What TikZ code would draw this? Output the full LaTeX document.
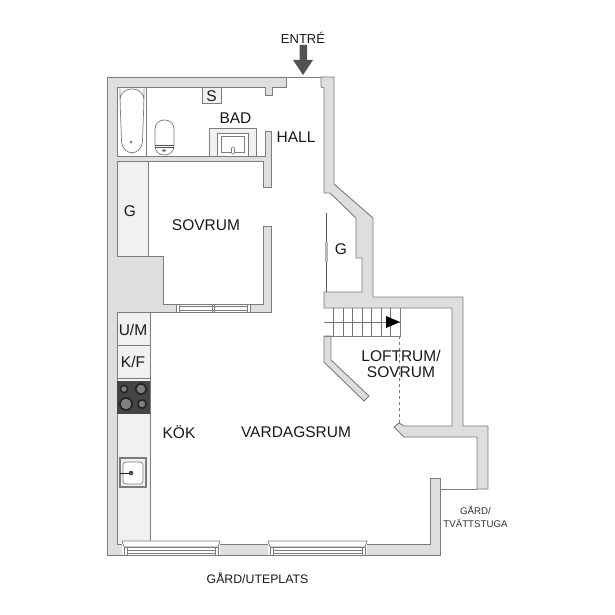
\documentclass[tikz,border=0pt]{standalone}
\usepackage{fontspec}
\setmainfont{Liberation Sans}
\definecolor{wallgray}{HTML}{DEDEDE}
\definecolor{edgegray}{HTML}{7C7C7C}
\definecolor{fixgray}{HTML}{F1F1F1}
\definecolor{hobgray}{HTML}{444444}
\tikzset{
    wall/.style={draw=edgegray,fill=wallgray,line width=0.9pt,line join=miter},
    fixture/.style={draw=edgegray,fill=fixgray,line width=0.8pt},
    thin line/.style={draw=edgegray,line width=0.7pt},
    room/.style={text=black!90,font=\fontsize{15.5}{18}\selectfont,align=center,inner sep=0pt},
    small room/.style={text=black!80,font=\fontsize{9.7}{13}\selectfont,align=center,inner sep=0pt},
}
\begin{document}
\begin{tikzpicture}[x=1pt,y=-1pt]
\useasboundingbox[fill=white] (0,0) rectangle (615,615);

\fill[fixgray] (117,161) rectangle (148,256);
\fill[fixgray] (117,312) rectangle (150,544);
\draw[thin line] (148,161) -- (148,256);
\draw[thin line] (150,312) -- (150,544);
\draw[thin line] (146,87) -- (146,156);
\draw[thin line] (286,77) -- (321,77);

\draw[wall] (107,77) -- (286,77) -- (286,87) -- (272,87) -- (272,95) -- (265,95) -- (265,87)
    -- (117,87) -- (117,156) -- (265,156) -- (265,131) -- (271,131) -- (271,187) -- (263,187)
    -- (263,161) -- (117,161) -- (117,256) -- (163,256) -- (163,304) -- (263,304) -- (263,226)
    -- (271,226) -- (271,312) -- (117,312) -- (117,544) -- (430,544) -- (430,478) -- (440,478)
    -- (440,555) -- (107,555) -- cycle;

\draw[wall] (321,77) -- (334,77) -- (334,184) -- (373,218) -- (373,297) -- (463,297) -- (463,426)
    -- (488,426) -- (488,489) -- (477,489) -- (477,437) -- (404,437) -- (394,427) -- (399,423)
    -- (404,426) -- (452,426) -- (452,308) -- (324,308) -- (324,292) -- (362,292) -- (362,258)
    -- (356,258) -- (356,218) -- (330,193) -- (324,193) -- (324,88) -- (321,87) -- cycle;

\draw[wall] (324,336) -- (331,336) -- (331,360) -- (369,396) -- (364,401) -- (324,362) -- cycle;
\draw[thin line] (440,489) -- (477,489);

\draw[thin line,draw=black!65] (326,213) -- (326,292);
\fill[wallgray!60!edgegray] (324.5,242) rectangle (327.5,262);

\draw[thin line] (324,336) -- (400,336) -- (400,308);
\foreach \i in {333,343,352,362,371,381,390} {
    \draw[thin line,line width=0.5pt,draw=black!55] (\i,308) -- (\i,336);
}
\draw[thin line,line width=0.5pt,draw=black!55] (324,322) -- (400,322);
\fill[black] (386,316) -- (400,322) -- (386,328) -- cycle;
\draw[edgegray,dashed,line width=0.6pt] (399,336) -- (399,423);

\foreach \a/\b in {124/218,270/365} {
    \fill[white] (\a-2,541) rectangle (\b+2,555);
    \draw[thin line] (\a-2,541) -- (\b+2,541) -- (\b,547) -- (\a,547) -- cycle;
    \draw[thin line] (\a,547) rectangle (\b,555);
    \draw[thin line,fill=white] (\a+3,550) rectangle (\b-3,553);
    \draw[thin line] (\a+3,547) -- (\a+3,555);
    \draw[thin line] (\b-3,547) -- (\b-3,555);
}

\fill[white] (176,304) rectangle (250,312);
\draw[thin line] (176,304) rectangle (250,312);
\draw[thin line] (179,306.5) rectangle (247,310);
\draw[thin line] (179,304) -- (179,312);
\draw[thin line] (247,304) -- (247,312);
\draw[thin line] (212,304) -- (212,312);
\draw[thin line] (214,304) -- (214,312);

\draw[fixture] (202,87) rectangle (221,103);
\node[room] (sluice) at (211.5,96) {S};

\draw[thin line,rounded corners=11pt] (122,153) -- (120,100) -- (120,89) -- (144,89) -- (144,100) -- (142,153) -- cycle;
\fill[black!55] (131,142) circle (1.3);
\draw[thin line,rounded corners=9pt] (155,155) -- (155,120) -- (174,120) -- (174,155) -- cycle;
\draw[black!70,line width=0.9pt] (155,145) -- (174,145);
\draw[black!70,line width=0.7pt] (155,147.5) -- (174,147.5);
\fill[black!55] (164,150.5) ellipse (2.2 and 1.2);

\draw[fixture] (209,156) -- (209,128) -- (256,128) -- (256,156);
\draw[thin line,fill=white] (217,156) -- (217,133) -- (248,133) -- (248,156);
\draw[thin line] (221,136) rectangle (244,152);
\draw[thin line,fill=white,rounded corners=1pt] (231.5,147) rectangle (234.5,154);

\fill[hobgray] (117,381) rectangle (150,414);
\draw[thin line] (117,345) -- (150,345);
\draw[thin line] (117,378) -- (150,378);
\foreach \cx/\cy/\r in {124/389/4.5,141/389/6,126/404/7,142/404/5} {
    \fill[black!85] (\cx,\cy) circle (\r);
    \fill[black!50] (\cx,\cy) circle (\r-1.8);
}

\draw[edgegray,fill=fixgray,line width=1.3pt] (120,458) rectangle (146,487);
\draw[thin line,fill=white,rounded corners=3pt] (123,462) rectangle (143,484);
\draw[black!85,line width=0.9pt] (120,473) -- (130,473);
\fill[black!70] (131,473) circle (2.3);

\fill[black!68] (299.5,45) rectangle (307,60) (293,60) -- (313,60) -- (303,75) -- cycle;

\node[room,font=\fontsize{13}{15}\selectfont] (entre) at (303,38) {ENTRÉ};
\node[room] (bad) at (235.5,118) {BAD};
\node[room] (hall) at (296,137) {HALL};
\node[room] (wardrobe) at (130,211) {G};
\node[room] (sovrum) at (206,225) {SOVRUM};
\node[room] (closet) at (341,249) {G};
\node[room] (washer) at (133,330) {U/M};
\node[room] (fridge) at (133,362) {K/F};
\node[room,text width=90pt] (loftrum) at (401,364) {LOFTRUM/\\[-1.5pt]SOVRUM};
\node[room] (kok) at (179,432) {KÖK};
\node[room] (vardagsrum) at (296,432) {VARDAGSRUM};
\node[small room] (tvatt) at (475.5,516.5) {GÅRD/\\TVÄTTSTUGA};
\node[room,font=\fontsize{12.3}{15}\selectfont] (uteplats) at (257.5,578) {GÅRD/UTEPLATS};
\end{tikzpicture}
\end{document}
